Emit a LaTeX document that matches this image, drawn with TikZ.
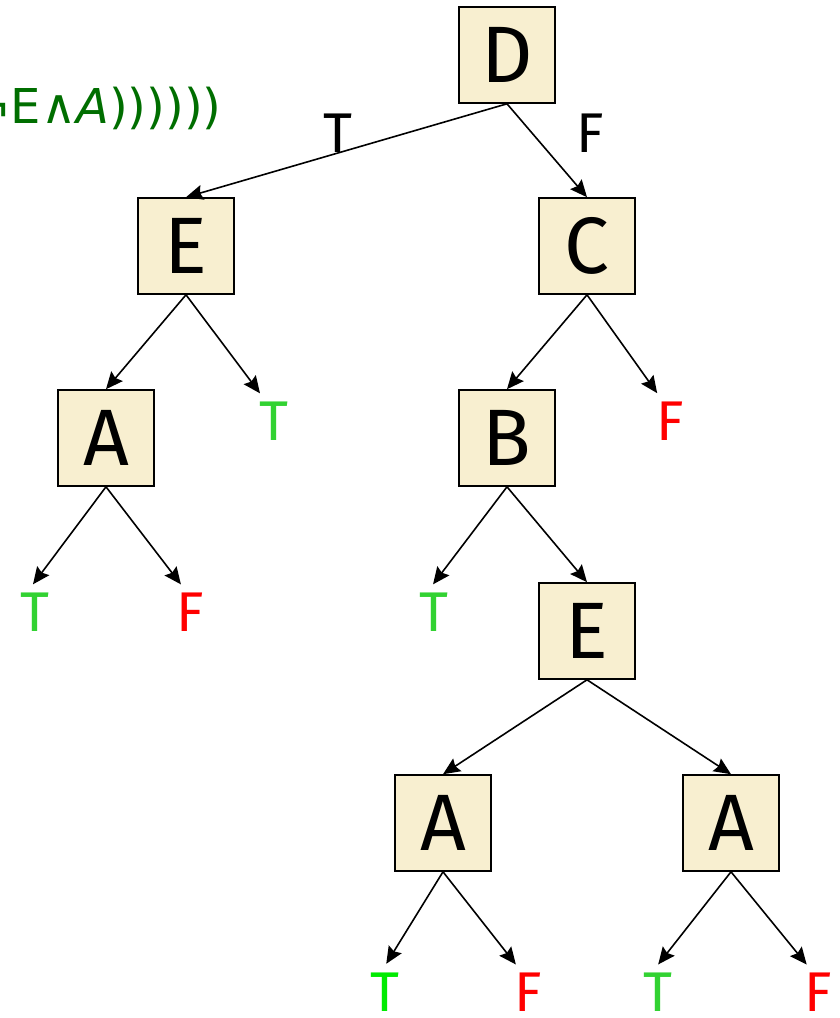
\documentclass[tikz,border=0pt]{standalone}
\usepackage{fontspec}
\setmainfont{Fira Sans}
\newfontfamily\formulafont{DejaVu Sans}
\usetikzlibrary{arrows.meta}
\definecolor{boxfill}{RGB}{248,239,208}
\definecolor{leafgreen}{RGB}{50,210,50}
\definecolor{brightgreen}{RGB}{0,235,0}
\definecolor{leafred}{RGB}{255,0,0}
\definecolor{formulagreen}{RGB}{0,110,0}
\begin{document}
\begin{tikzpicture}[x=0.5pt,y=-0.5pt,
  varbox/.style={draw=black,line width=0.8pt,fill=boxfill,minimum size=48pt,
    inner sep=0pt,font=\fontsize{40}{40}\selectfont},
  leaf/.style={inner sep=0pt,font=\fontsize{28}{28}\selectfont},
  tval/.style={leaf,text=leafgreen},
  fval/.style={leaf,text=leafred},
  branch/.style={leaf,text=black},
  edge/.style={line width=0.8pt,-{Stealth[length=8.5pt,width=7.5pt,inset=1.2pt]}},
  leafedge/.style={edge,shorten >=5pt}]
  \useasboundingbox (0,0) rectangle (840,1018);

  % decision nodes
  \node[varbox] (D)  at (507,55)  {D};
  \node[varbox] (E1) at (186,246) {E};
  \node[varbox] (C)  at (587,246) {C};
  \node[varbox] (A1) at (106,438) {A};
  \node[varbox] (B)  at (507,438) {B};
  \node[varbox] (E2) at (587,631) {E};
  \node[varbox] (A2) at (443,823) {A};
  \node[varbox] (A3) at (731,823) {A};

  % terminal values
  \node[tval] (t1) at (274,421) {T};
  \node[fval] (f1) at (670,421) {F};
  \node[tval] (t2) at (35,612)  {T};
  \node[fval] (f2) at (190,612) {F};
  \node[tval] (t3) at (434,612) {T};
  \node[tval,text=brightgreen] (t4) at (385,992) {T};
  \node[fval] (f4) at (528,992) {F};
  \node[tval] (t5) at (658,992) {T};
  \node[fval] (f5) at (818,992) {F};

  % branch labels of the root
  \node[branch] (lt) at (338,133) {T};
  \node[branch] (lf) at (590,133) {F};

  % formula fragment
  \node[anchor=base east,inner sep=0pt,text=formulagreen,
    font=\formulafont\fontsize{24}{24}\selectfont] (formula) at (222,123)
    {¬E∧\textit{A}))))))};

  % connectors
  \draw[edge] (D.south) -- (E1.north);
  \draw[edge] (D.south) -- (C.north);
  \draw[edge] (E1.south) -- (A1.north);
  \draw[leafedge] (E1.south) -- ([xshift=-4pt]t1.north);
  \draw[edge] (C.south) -- (B.north);
  \draw[leafedge] (C.south) -- ([xshift=-3.5pt]f1.north);
  \draw[leafedge] (A1.south) -- ([xshift=-4pt]t2.north);
  \draw[leafedge] (A1.south) -- ([xshift=-1.5pt]f2.north);
  \draw[leafedge] (B.south) -- ([xshift=-3.5pt]t3.north);
  \draw[edge] (B.south) -- (E2.north);
  \draw[edge] (E2.south) -- (A2.north);
  \draw[edge] (E2.south) -- (A3.north);
  \draw[leafedge] (A2.south) -- ([xshift=-2pt]t4.north);
  \draw[leafedge] (A2.south) -- ([xshift=-3pt]f4.north);
  \draw[leafedge] (A3.south) -- ([xshift=-3pt]t5.north);
  \draw[leafedge] (A3.south) -- ([xshift=-2.5pt]f5.north);
\end{tikzpicture}
\end{document}
